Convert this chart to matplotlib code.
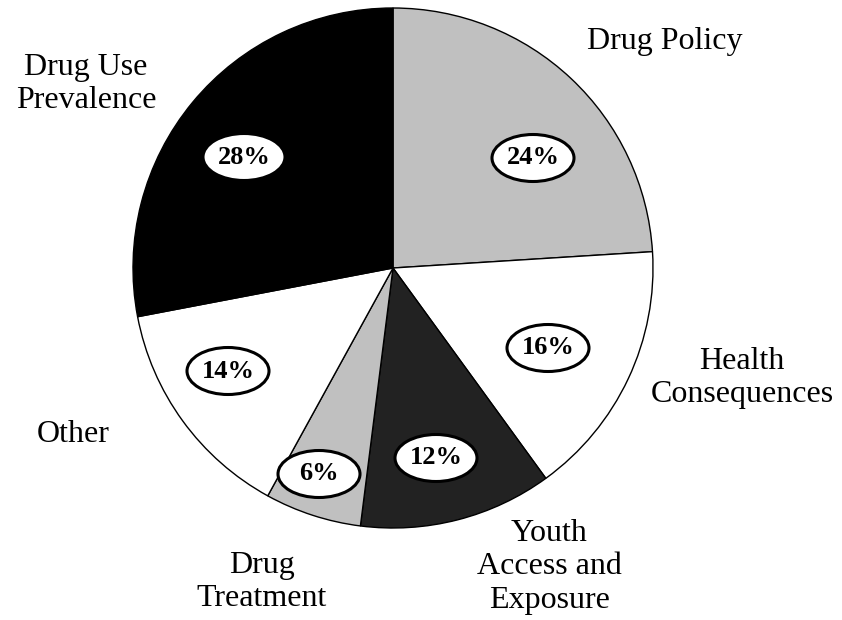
import matplotlib.pyplot as plt
from matplotlib.patches import Ellipse

plt.rcParams['font.family'] = ['Liberation Serif', 'DejaVu Serif']

# Share of items by topic, clockwise from 12 o'clock
categories = ['Drug Policy', 'Health\nConsequences', 'Youth\nAccess and\nExposure',
              'Drug\nTreatment', 'Other', 'Drug Use\nPrevalence']
shares = [24, 16, 12, 6, 14, 28]

colors = ['#c0c0c0', 'white', '#222222', '#c0c0c0', 'white', 'black']

# where the percentage bubbles and the category names sit (pixels)
bubble_px = [(533, 158), (548, 348), (436, 458), (319, 474), (228, 371), (244, 157)]
name_px = [(665, 42), (742, 378), (549, 567), (262, 582), (73, 435), (86, 84)]

W, H = 842, 620
fig = plt.figure(figsize=(W / 100, H / 100), dpi=100)

cx, cy, r = 393, 268, 260
ax = fig.add_axes([(cx - r) / W, (H - cy - r) / H, 2 * r / W, 2 * r / H])
ax.pie(shares, colors=colors, startangle=90, counterclock=False, radius=1,
       wedgeprops=dict(edgecolor='black', linewidth=1.0))
ax.set_xlim(-1, 1)
ax.set_ylim(-1, 1)
ax.set_aspect('equal')
ax.axis('off')

for val, (px, py) in zip(shares, bubble_px):
    x = (px - cx) / r
    y = (cy - py) / r
    ax.add_patch(Ellipse((x, y), 82 / r, 47 / r, facecolor='white',
                         edgecolor='black', linewidth=2.2, zorder=3))
    ax.text(x, y, f'{val}%', ha='center', va='center', fontsize=19,
            fontweight='bold', zorder=4)

for name, (px, py) in zip(categories, name_px):
    fig.text(px / W, 1 - py / H, name, ha='center', va='center',
             fontsize=23, linespacing=1.22)

fig.savefig('out.png', dpi=100)
